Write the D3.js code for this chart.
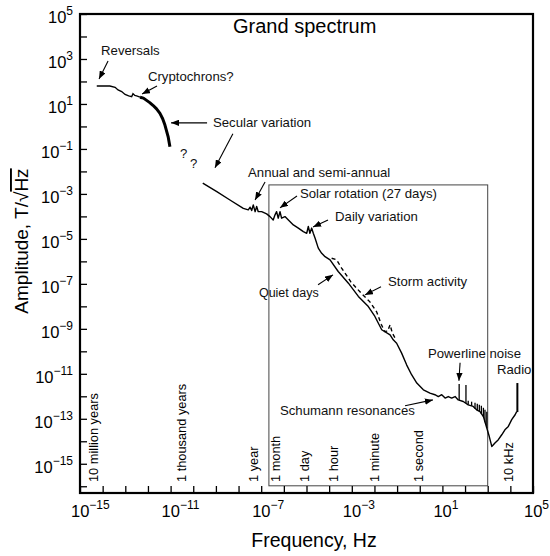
<!DOCTYPE html>
<html><head><meta charset="utf-8">
<script src="https://cdnjs.cloudflare.com/ajax/libs/d3/7.8.5/d3.min.js"></script>
<style>
body{margin:0;background:#fff;}
svg{display:block;font-family:"Liberation Sans",Arial,Helvetica,sans-serif;}
</style></head><body>
<svg id="c" width="550" height="556"></svg>
<script>
// ---------- DATA (log10 values) ----------
const xTickExp = [-15,-11,-7,-3,1,5];
const yTickExp = [5,3,1,-1,-3,-5,-7,-9,-11,-13,-15];

// low-frequency part (reversals / cryptochrons)
const lowLogF = [-14.26,-13.68,-13.45,-13.32,-13.16,-13.01,-12.85,-12.72,-12.66,-12.58,-12.5,-12.35];
const lowLogA = [1.80,1.80,1.74,1.62,1.55,1.42,1.36,1.32,1.46,1.38,1.36,1.30];
// secular variation (heavy band)
const secLogF = [-12.35,-12.2,-12.06,-11.92,-11.78,-11.62,-11.47,-11.35,-11.25,-11.11,-11.03];
const secLogA = [1.30,1.26,1.16,1.06,0.94,0.78,0.58,0.34,0.06,-0.45,-0.90];
// main curve from annual variation up to radio frequencies
const mainLogF = [-9.58,-8.96,-8.38,-7.79,-7.57,-7.49,-7.42,-7.35,-7.27,-7.20,-7.13,-6.98,-6.76,-6.61,-6.47,-6.39,-6.32,-6.25,-6.17,-6.10,-5.95,-5.80,-5.58,-5.36,-5.14,-4.99,-4.92,-4.85,-4.77,-4.70,-4.62,-4.48,-4.33,-4.18,-3.96,-3.60,-3.15,-2.71,-2.27,-1.98,-1.68,-1.31,-1.17,-1.02,-0.80,-0.58,-0.36,-0.13,0.16,0.45,0.67,0.82,0.97,1.12,1.26,1.41,1.56,1.70,1.92,2.14,2.36,2.51,2.66,2.81,2.96,3.07,3.18,3.32,3.47,3.62,3.76,3.91,4.06,4.21,4.28];
const mainLogA = [-2.52,-2.90,-3.27,-3.64,-3.71,-3.59,-3.74,-3.49,-3.79,-3.56,-3.79,-3.79,-3.89,-4.01,-4.16,-3.93,-3.79,-4.08,-3.79,-4.08,-4.01,-4.16,-4.38,-4.52,-4.68,-4.75,-4.45,-4.75,-4.52,-4.75,-4.97,-5.41,-5.64,-5.79,-5.93,-6.45,-6.97,-7.56,-8.01,-8.45,-9.04,-9.27,-9.49,-9.64,-10.08,-10.60,-11.04,-11.41,-11.71,-11.86,-11.93,-12.01,-11.93,-12.08,-12.01,-12.08,-12.01,-12.16,-12.23,-12.38,-12.45,-12.60,-12.68,-12.90,-13.41,-13.79,-14.23,-14.08,-13.93,-13.71,-13.49,-13.34,-13.04,-12.82,-12.68];
// storm activity (dashed)
const stormLogF = [-3.89,-3.67,-3.45,-3.05,-2.60,-2.20,-1.90,-1.70,-1.55,-1.42,-1.31,-1.21,-1.09];
const stormLogA = [-5.86,-5.93,-6.30,-6.90,-7.40,-7.80,-8.25,-8.80,-9.12,-9.10,-8.82,-9.19,-9.41];
// spikes (powerline harmonics, resonances, radio)
const spikeLogF = [1.74,2.04,2.14,2.29,2.44,2.54,2.63,2.72,2.81,2.88,2.96,4.31];
const spikeBase = [-12.16,-12.30,-12.38,-12.42,-12.55,-12.62,-12.67,-12.78,-12.90,-13.15,-13.41,-12.70];
const spikeTop  = [-11.45,-11.50,-12.20,-12.24,-12.29,-12.33,-12.38,-12.42,-12.51,-12.60,-12.69,-11.41];

// period markers
const periodText = ["10 million years","1 thousand years","1 year","1 month","1 day","1 hour","1 minute","1 second","10 kHz"];
const periodLogF = [-14.41,-10.51,-7.35,-6.39,-5.07,-3.82,-1.98,-0.06,3.91];

// annotations (text at log f, log A)
const noteText = ["Reversals","Cryptochrons?","Secular variation","Annual and semi-annual","Solar rotation (27 days)","Daily variation","Quiet days","Storm activity","Powerline noise","Radio","Schumann resonances","?","?"];
const noteLogF = [-14.07,-12.0,-9.13,-7.58,-5.29,-3.74,-7.1,-1.40,0.36,3.41,-6.17,-10.58,-10.14];
const noteLogA = [3.18,2.02,-0.02,-2.24,-3.18,-4.2,-7.58,-7.09,-10.29,-11.0,-12.82,-1.4,-1.84];
// arrows: from (f1,a1) to (f2,a2)
const arrowF1 = [-13.76,-11.60,-9.39,-8.25,-6.83,-5.42,-4.05,-4.49,-1.71,1.78,-0.65];
const arrowA1 = [2.91,1.80,0.16,-0.33,-2.47,-3.09,-4.16,-7.04,-7.13,-10.51,-12.42];
const arrowF2 = [-14.16,-12.26,-10.98,-9.04,-7.27,-6.17,-4.71,-3.83,-2.42,1.73,0.58];
const arrowA2 = [2.11,1.44,0.16,-1.84,-3.27,-3.62,-4.47,-6.60,-7.49,-11.31,-12.16];
// inset box
const boxLogF = [-6.66, 3.0];
const boxLogA = [-2.6, -15.98];

// ---------- CHART ----------
const p = v => Math.pow(10, v);
const svg = d3.select("#c");
const x = d3.scaleLog().domain([1e-15, 1e5]).range([80, 533]);
const y = d3.scaleLog().domain([p(-16.3), 1e5]).range([493, 14]);

// inset box
svg.append("rect")
  .attr("x", x(p(boxLogF[0]))).attr("y", y(p(boxLogA[0])))
  .attr("width", x(p(boxLogF[1])) - x(p(boxLogF[0])))
  .attr("height", y(p(boxLogA[1])) - y(p(boxLogA[0])))
  .attr("fill","none").attr("stroke","#444").attr("stroke-width",1);

// axes
const allX = d3.range(-15, 6).map(p);
const allY = d3.range(-16, 6).map(p);
svg.append("g").attr("transform","translate(0,493)")
  .call(d3.axisBottom(x).tickValues(allX).tickSize(-7).tickFormat(""))
  .call(g => g.select(".domain").remove())
  .call(g => g.selectAll("line").attr("stroke","#000").attr("stroke-width",1.3));
svg.append("g").attr("transform","translate(80,0)")
  .call(d3.axisLeft(y).tickValues(allY).tickSize(-7).tickFormat(""))
  .call(g => g.select(".domain").remove())
  .call(g => g.selectAll("line").attr("stroke","#000").attr("stroke-width",1.3));

// frame
svg.append("rect").attr("x",80).attr("y",14).attr("width",453).attr("height",479)
  .attr("fill","none").attr("stroke","#000").attr("stroke-width",2.2);

// tick labels
const xl = svg.append("g").selectAll("text").data(xTickExp).join("text")
  .attr("x", d => x(p(d)) - 9).attr("y", 517)
  .attr("font-size", 16.5).attr("fill","#000");
xl.append("tspan").text("10");
xl.append("tspan").attr("dy",-8).attr("font-size",12).text(d => d < 0 ? "\u2212" + (-d) : d);

const yl = svg.append("g").selectAll("text").data(yTickExp).join("text")
  .attr("x", 73).attr("y", d => y(p(d)) + 9).attr("text-anchor","end")
  .attr("font-size", 16.5).attr("fill","#000");
yl.append("tspan").text("10");
yl.append("tspan").attr("dy",-8).attr("font-size",12).text(d => d < 0 ? "\u2212" + (-d) : d);

// axis titles
svg.append("text").attr("x", 314).attr("y", 547).attr("text-anchor","middle")
  .attr("font-size", 19.5).text("Frequency, Hz");
const yt = svg.append("text").attr("transform","translate(28,241) rotate(-90)")
  .attr("text-anchor","middle").attr("font-size",19);
yt.append("tspan").text("Amplitude, T/\u221A");
yt.append("tspan").attr("text-decoration","overline").style("text-decoration","overline").text("Hz");

// title
svg.append("text").attr("x", 233).attr("y", 33).attr("font-size",20).text("Grand spectrum");

// period labels
svg.append("g").selectAll("text").data(periodLogF).join("text")
  .attr("transform",(d,i) => `translate(${x(p(d))},482) rotate(-90)`)
  .attr("dominant-baseline","central").attr("font-size",12.8)
  .text((d,i) => periodText[i]);

// curves
const line = d3.line().x(d => x(p(d[0]))).y(d => y(p(d[1])));
const zipPts = (a,b) => a.map((v,i) => [v, b[i]]);
svg.append("path").attr("d", line(zipPts(lowLogF, lowLogA)))
  .attr("fill","none").attr("stroke","#000").attr("stroke-width",1.4);
svg.append("path").attr("d", line(zipPts(secLogF, secLogA)))
  .attr("fill","none").attr("stroke","#000").attr("stroke-width",3).attr("stroke-linejoin","round");
svg.append("path").attr("d", line(zipPts(mainLogF, mainLogA)))
  .attr("fill","none").attr("stroke","#000").attr("stroke-width",1.4).attr("stroke-linejoin","round");
svg.append("path").attr("d", line(zipPts(stormLogF, stormLogA)))
  .attr("fill","none").attr("stroke","#000").attr("stroke-width",1.4).attr("stroke-dasharray","4,3");
svg.append("g").selectAll("line").data(spikeLogF).join("line")
  .attr("x1", d => x(p(d))).attr("x2", d => x(p(d)))
  .attr("y1",(d,i) => y(p(spikeBase[i]))).attr("y2",(d,i) => y(p(spikeTop[i])))
  .attr("stroke","#000").attr("stroke-width",(d,i)=> i===spikeLogF.length-1 ? 2 : 1.3);

// arrows
svg.append("defs").append("marker").attr("id","ah")
  .attr("viewBox","0 0 10 8").attr("refX",10).attr("refY",4)
  .attr("markerWidth",8).attr("markerHeight",6.4).attr("markerUnits","userSpaceOnUse")
  .attr("orient","auto")
  .append("path").attr("d","M0,0L10,4L0,8z").attr("fill","#000");
svg.append("g").selectAll("line").data(arrowF1).join("line")
  .attr("x1",(d,i)=>x(p(arrowF1[i]))).attr("y1",(d,i)=>y(p(arrowA1[i])))
  .attr("x2",(d,i)=>x(p(arrowF2[i]))).attr("y2",(d,i)=>y(p(arrowA2[i])))
  .attr("stroke","#000").attr("stroke-width",1.1).attr("marker-end","url(#ah)");

// annotation text
svg.append("g").selectAll("text").data(noteText).join("text")
  .attr("x",(d,i)=>x(p(noteLogF[i]))).attr("y",(d,i)=>y(p(noteLogA[i])))
  .attr("font-size",(d,i)=> d === "Quiet days" ? 12.5 : 13.2).attr("fill","#111")
  .text(d => d);
</script>
</body></html>
